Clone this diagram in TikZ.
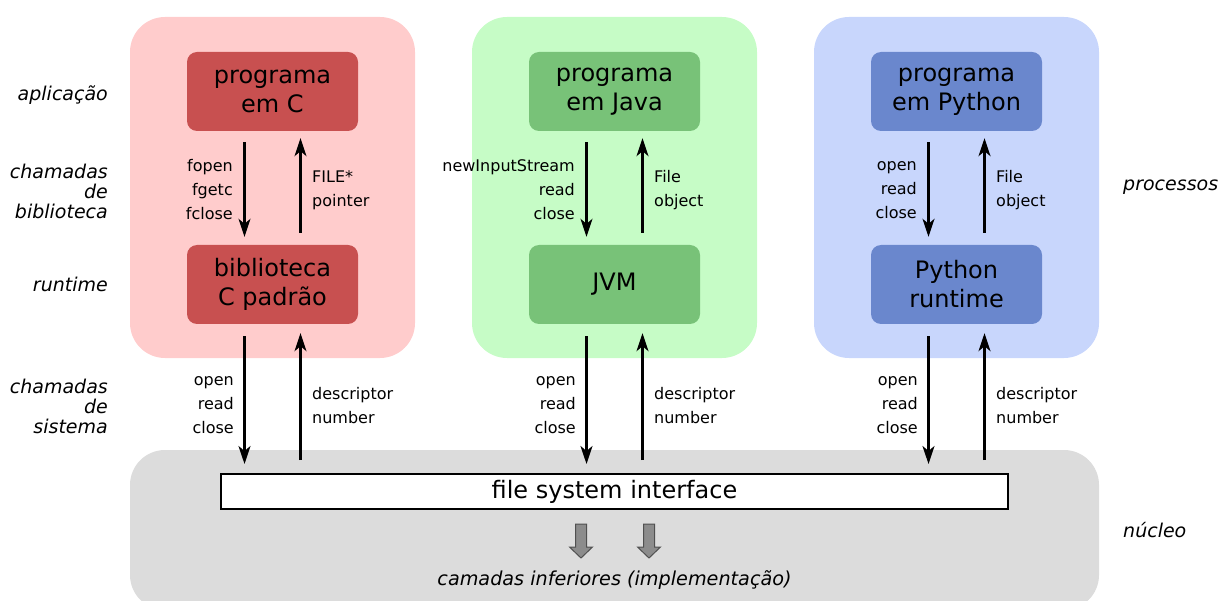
\documentclass[tikz,border=0pt]{standalone}
\usepackage{fontspec}
\setmainfont{DejaVu Sans}
\usetikzlibrary{arrows.meta}
\definecolor{redout}{HTML}{FFCCCC}
\definecolor{redin}{HTML}{C85050}
\definecolor{greenout}{HTML}{C6FCC6}
\definecolor{greenin}{HTML}{78C278}
\definecolor{blueout}{HTML}{C8D6FC}
\definecolor{bluein}{HTML}{6A87CD}
\definecolor{grayout}{HTML}{DCDCDC}
\definecolor{arrgray}{HTML}{8C8C8C}
\definecolor{arrdark}{HTML}{505050}
\tikzset{
  outerbox/.style={rectangle, rounded corners=35pt, minimum width=285pt, minimum height=341pt, inner sep=0pt},
  innerbox/.style={rectangle, rounded corners=10pt, minimum width=171pt, minimum height=79pt, inner sep=0pt, align=center, font=\fontsize{24}{29}\selectfont},
  smalllbl/.style={inner sep=0pt, font=\fontsize{16}{24}\selectfont},
  sidelbl/.style={inner sep=0pt, anchor=east, align=right, font=\fontsize{19}{20}\selectfont\itshape},
  conn/.style={line width=2.2pt, -{Stealth[length=18pt,width=12pt,inset=5pt]}},
  blockarrow/.style={fill=arrgray, draw=arrdark, line width=1pt, line join=miter}
}
\begin{document}
\begin{tikzpicture}[x=1pt,y=-1pt]
\useasboundingbox (0,0) rectangle (1228,601);
% background regions
\node[outerbox, fill=redout] (procC) at (272.5,187.5) {};
\node[outerbox, fill=greenout] (procJ) at (614.5,187.5) {};
\node[outerbox, fill=blueout] (procP) at (956.5,187.5) {};
\node[rectangle, rounded corners=35pt, fill=grayout, minimum width=969pt, minimum height=160pt, inner sep=0pt] (kernel) at (614.5,530) {};
% inner boxes
\node[innerbox, fill=redin] (progC) at (272.5,91.5) {programa\\em C};
\node[innerbox, fill=redin] (libC) at (272.5,284.5) {biblioteca\\C padrão};
\node[innerbox, fill=greenin] (progJ) at (614.5,91.5) {programa\\em Java};
\node[innerbox, fill=greenin] (jvm) at (614.5,284.5) {JVM};
\node[innerbox, fill=bluein] (progP) at (956.5,91.5) {programa\\em Python};
\node[innerbox, fill=bluein] (pyrt) at (956.5,284.5) {Python\\runtime};
% file system interface
\node[rectangle, draw=black, line width=2pt, fill=white, minimum width=787pt, minimum height=35pt, inner sep=0pt, font=\fontsize{24}{29}\selectfont] (fsi) at (614.5,491.5) {file system interface};
% upper connectors
\foreach \a/\b in {progC/libC, progJ/jvm, progP/pyrt}{
  \draw[conn, shorten <=11pt, shorten >=8pt] ([xshift=-28pt]\a.south) -- ([xshift=-28pt]\b.north);
  \draw[conn, shorten <=12pt, shorten >=7pt] ([xshift=28pt]\b.north) -- ([xshift=28pt]\a.south);
}
% lower connectors
\foreach \a in {libC, jvm, pyrt}{
  \draw[conn, shorten <=12pt, shorten >=9pt] ([xshift=-28pt]\a.south) -- ([xshift=-28pt]\a.south |- fsi.north);
  \draw[conn, shorten <=13pt, shorten >=9pt] ([xshift=28pt]\a.south |- fsi.north) -- ([xshift=28pt]\a.south);
}
% connector labels
\node[smalllbl, anchor=east, align=right] (lC1) at (233,190) {fopen\\fgetc\\fclose};
\node[smalllbl, anchor=west, align=left] (lC2) at (312,190) {FILE*\\pointer};
\node[smalllbl, anchor=east, align=right] (lJ1) at (575,190) {newInputStream\\read\\close};
\node[smalllbl, anchor=west, align=left] (lJ2) at (654,190) {File\\object};
\node[smalllbl, anchor=east, align=right] (lP1) at (917,190) {open\\read\\close};
\node[smalllbl, anchor=west, align=left] (lP2) at (996,190) {File\\object};
\node[smalllbl, anchor=east, align=right] (sC1) at (234,405) {open\\read\\close};
\node[smalllbl, anchor=west, align=left] (sC2) at (312,406) {descriptor\\number};
\node[smalllbl, anchor=east, align=right] (sJ1) at (576,405) {open\\read\\close};
\node[smalllbl, anchor=west, align=left] (sJ2) at (654,406) {descriptor\\number};
\node[smalllbl, anchor=east, align=right] (sP1) at (918,405) {open\\read\\close};
\node[smalllbl, anchor=west, align=left] (sP2) at (996,406) {descriptor\\number};
% side labels
\node[sidelbl] (Lapp) at (108,95) {aplicação};
\node[sidelbl] (Llib) at (108,191) {chamadas\\de\\biblioteca};
\node[sidelbl] (Lrt) at (108,284) {runtime};
\node[sidelbl] (Lsys) at (108,406) {chamadas\\de\\sistema};
\node[sidelbl, anchor=west, align=left] (Lproc) at (1123,187) {processos};
\node[sidelbl, anchor=west, align=left] (Lker) at (1123,530) {núcleo};
% lower layers
\draw[blockarrow] (575.5,524) -- (586.5,524) -- (586.5,547) -- (592.5,547) -- (581,558) -- (569.5,547) -- (575.5,547) -- cycle;
\draw[blockarrow] (643.5,524) -- (654.5,524) -- (654.5,547) -- (660.5,547) -- (649,558) -- (637.5,547) -- (643.5,547) -- cycle;
\node[inner sep=0pt, font=\fontsize{19.2}{20}\selectfont\itshape] (impl) at (614.5,580) {camadas inferiores (implementação)};
\end{tikzpicture}
\end{document}
